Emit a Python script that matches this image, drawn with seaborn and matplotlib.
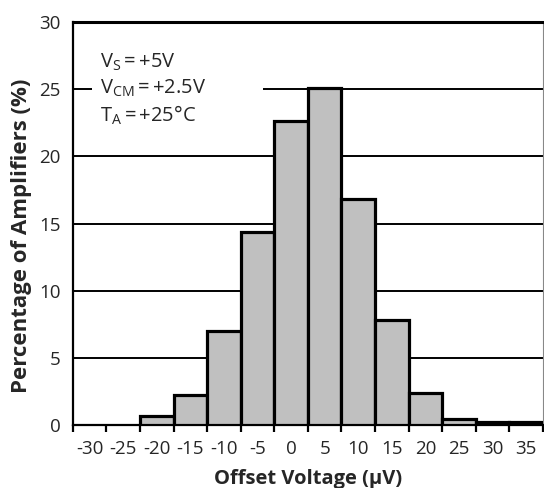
import matplotlib
matplotlib.use('agg')
import matplotlib.pyplot as plt
from matplotlib.patches import Rectangle
import numpy as np
import pandas as pd
import seaborn as sns

# offset voltage bin centres (uV) and share of amplifiers (%)
centers = [-20, -15, -10, -5, 0, 5, 10, 15, 20, 25, 30, 35]
percent = [0.65, 2.25, 7.0, 14.4, 22.6, 25.1, 16.8, 7.8, 2.4, 0.45, 0.2, 0.2]
tick_labels = ["-30", "-25", "-20", "-15", "-10", "-5", "0", "5", "10", "15",
               "20", "25", "30", "35"]
yticks = [0, 5, 10, 15, 20, 25, 30]

df = pd.DataFrame({"offset": centers, "pct": percent})

sns.set_style("white")
plt.rcParams['font.family'] = ['Open Sans', 'DejaVu Sans']
plt.rcParams['mathtext.fontset'] = 'custom'
plt.rcParams['mathtext.rm'] = 'Open Sans'
plt.rcParams['mathtext.it'] = 'Open Sans'

fig = plt.figure(figsize=(5.44, 4.88), dpi=100)
ax = fig.add_axes([0.134, 0.129, 0.864, 0.826])

sns.barplot(data=df, x="offset", y="pct", native_scale=True, width=1,
            color="#c0c0c0", saturation=1, edgecolor="black", linewidth=2.3,
            ax=ax, zorder=3)

ax.set_xlim(-32.5, 37.5)
ax.set_ylim(0, 30)

# major ticks at bin edges, labels at bin centres
ax.set_xticks(np.arange(-32.5, 40, 5))
ax.set_xticklabels([])
ax.set_xticks(np.arange(-30, 40, 5), minor=True)
ax.set_xticklabels(tick_labels, minor=True)
ax.tick_params(axis="x", which="major", direction="out", length=5, width=1.6,
               color="black", bottom=True)
ax.tick_params(axis="x", which="minor", length=0, pad=11, labelsize=13.5)
ax.set_yticks(yticks)
ax.tick_params(axis="y", length=0, pad=9, labelsize=13.5)

for y in yticks[1:-1]:
    ax.axhline(y, color="black", lw=1.4, zorder=1)

for s in ["left", "bottom"]:
    ax.spines[s].set_color("black")
    ax.spines[s].set_linewidth(1.6)
ax.spines["top"].set_color("black")
ax.spines["top"].set_linewidth(2.2)
ax.spines["right"].set_color("#888888")
ax.spines["right"].set_linewidth(0.8)

ax.set_xlabel("Offset Voltage (µV)", fontsize=14.5, fontweight="bold")
ax.xaxis.set_label_coords(0.5, -0.108)
ax.set_ylabel("Percentage of Amplifiers (%)", fontsize=16,
              fontweight="bold")
ax.yaxis.set_label_coords(-0.087, 0.47)

# white panel behind the conditions text
ax.add_patch(Rectangle((-29.7, 22.2), 25.5, 6.6, facecolor="white",
                       edgecolor="none", zorder=2))
ax.text(-28.4, 25.0,
        "$\\mathregular{V_S}$\u2009=\u2009+5V\n"
        "$\\mathregular{V_{CM}}$\u2009=\u2009+2.5V\n"
        "$\\mathregular{T_A}$\u2009=\u2009+25°C",
        fontsize=14.5, va="center", ha="left", linespacing=1.26, zorder=2.5)

fig.savefig("out.png", dpi=100)
